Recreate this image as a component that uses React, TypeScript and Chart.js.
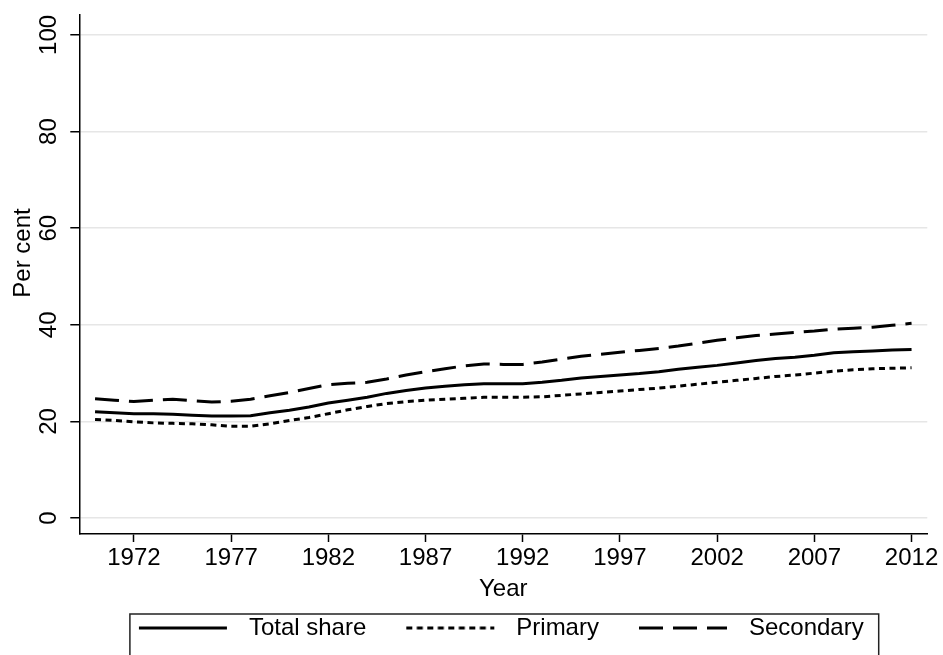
import React, { useEffect, useRef } from 'react';
import { Chart, registerables } from 'chart.js';

Chart.register(...registerables);

const years = [
  1970, 1971, 1972, 1973, 1974, 1975, 1976, 1977, 1978, 1979,
  1980, 1981, 1982, 1983, 1984, 1985, 1986, 1987, 1988, 1989,
  1990, 1991, 1992, 1993, 1994, 1995, 1996, 1997, 1998, 1999,
  2000, 2001, 2002, 2003, 2004, 2005, 2006, 2007, 2008, 2009,
  2010, 2011, 2012,
];

const totalShare = [
  22.0, 21.8, 21.6, 21.6, 21.5, 21.3, 21.1, 21.1, 21.2, 21.8,
  22.3, 23.0, 23.8, 24.4, 25.0, 25.8, 26.4, 26.9, 27.3, 27.6,
  27.8, 27.8, 27.8, 28.1, 28.5, 29.0, 29.3, 29.6, 29.9, 30.3,
  30.8, 31.2, 31.6, 32.1, 32.6, 33.0, 33.3, 33.7, 34.2, 34.4,
  34.6, 34.8, 34.9,
];

const primary = [
  20.4, 20.2, 19.9, 19.7, 19.6, 19.5, 19.3, 19.0, 19.0, 19.5,
  20.2, 20.8, 21.6, 22.4, 23.1, 23.7, 24.1, 24.4, 24.6, 24.8,
  25.0, 25.0, 25.0, 25.1, 25.4, 25.7, 26.0, 26.3, 26.6, 26.9,
  27.3, 27.7, 28.1, 28.5, 28.9, 29.3, 29.6, 30.0, 30.4, 30.7,
  30.9, 31.0, 31.1,
];

const secondary = [
  24.7, 24.4, 24.1, 24.4, 24.6, 24.3, 24.0, 24.2, 24.6, 25.3,
  26.0, 26.8, 27.6, 27.9, 28.1, 28.8, 29.6, 30.3, 30.9, 31.5,
  31.9, 31.8, 31.8, 32.3, 32.9, 33.5, 33.9, 34.3, 34.7, 35.1,
  35.6, 36.2, 36.8, 37.3, 37.8, 38.1, 38.4, 38.7, 39.1, 39.3,
  39.5, 39.9, 40.3,
];

const xTickYears = [1972, 1977, 1982, 1987, 1992, 1997, 2002, 2007, 2012];
const yTickValues = [0, 20, 40, 60, 80, 100];
const seriesLabels = ['Total share', 'Primary', 'Secondary'];
const xTitle = 'Year';
const yTitle = 'Per cent';

const FONT = '"Liberation Sans", Arial, Helvetica, sans-serif';
const FONT_SIZE = 24;
const SOLID: number[] = [];
const DOTTED = [6, 4.5];
const DASHED = [24, 10];

const SAMPLE_LEFT = 30;
const SAMPLE_LINE = 88;
const SAMPLE_RIGHT = 10;
const SAMPLE_W = SAMPLE_LEFT + SAMPLE_LINE + SAMPLE_RIGHT;
const LEGEND_SHIFT = -17;

function makeSample(dash: number[]) {
  const c = document.createElement('canvas');
  c.width = SAMPLE_W;
  c.height = 8;
  const g = c.getContext('2d')!;
  g.strokeStyle = '#000';
  g.lineWidth = 3;
  g.setLineDash(dash);
  g.beginPath();
  g.moveTo(SAMPLE_LEFT, 4);
  g.lineTo(SAMPLE_LEFT + SAMPLE_LINE, 4);
  g.stroke();
  return c;
}

const decorPlugin = {
  id: 'decor',
  afterLayout(chart: any) {
    const lg = chart.legend;
    if (lg) {
      lg.left += LEGEND_SHIFT;
      lg.right += LEGEND_SHIFT;
    }
  },
  afterDraw(chart: any) {
    const ctx = chart.ctx;
    // y-axis title
    ctx.save();
    ctx.fillStyle = '#000';
    ctx.font = `${FONT_SIZE}px ${FONT}`;
    ctx.translate(30, 253);
    ctx.rotate(-Math.PI / 2);
    ctx.textAlign = 'center';
    ctx.textBaseline = 'alphabetic';
    ctx.fillText(yTitle, 0, 0);
    ctx.restore();

    // legend frame
    const lg = chart.legend;
    if (!lg || !lg.legendHitBoxes || !lg.legendHitBoxes.length) return;
    const hb = lg.legendHitBoxes;
    const first = hb[0];
    const last = hb[hb.length - 1];
    const left = first.left + SAMPLE_LEFT - 9;
    const right = last.left + last.width + 15;
    const top = first.top - 2;
    ctx.save();
    ctx.strokeStyle = '#222';
    ctx.lineWidth = 1.5;
    ctx.setLineDash([]);
    ctx.strokeRect(left, top, right - left, 100);
    ctx.restore();
  },
};

export default function App() {
  const ref = useRef<HTMLCanvasElement | null>(null);

  useEffect(() => {
    if (!ref.current) return;
    const toPts = (arr: number[]) => years.map((y, i) => ({ x: y, y: arr[i] }));
    const mk = (label: string, arr: number[], dash: number[]) => ({
      label,
      data: toPts(arr),
      borderColor: '#000',
      backgroundColor: '#000',
      borderWidth: 3,
      borderDash: dash,
      borderCapStyle: 'butt' as const,
      pointRadius: 0,
      pointHoverRadius: 0,
      pointStyle: makeSample(dash) as any,
      tension: 0,
      fill: false,
    });
    const font = { family: FONT, size: FONT_SIZE };
    const chart = new Chart(ref.current, {
      type: 'line',
      data: {
        datasets: [
          mk(seriesLabels[0], totalShare, SOLID),
          mk(seriesLabels[1], primary, DOTTED),
          mk(seriesLabels[2], secondary, DASHED),
        ],
      },
      options: {
        animation: false,
        responsive: false,
        events: [],
        layout: { padding: { top: 13, right: 15.7, bottom: 5, left: 0 } },
        plugins: {
          legend: {
            position: 'bottom',
            fullSize: false,
            labels: {
              usePointStyle: true,
              pointStyleWidth: SAMPLE_W,
              boxHeight: 8,
              padding: 10,
              color: '#000',
              font,
            },
          },
          tooltip: { enabled: false },
        },
        scales: {
          x: {
            type: 'linear',
            min: 1969.19,
            max: 2012.81,
            afterBuildTicks: (s: any) => {
              s.ticks = xTickYears.map((v) => ({ value: v }));
            },
            afterFit: (s: any) => {
              s.height = 72;
            },
            ticks: {
              callback: (v: any) => String(v),
              font,
              color: '#000',
              padding: 2,
              maxRotation: 0,
              minRotation: 0,
              autoSkip: false,
            },
            grid: {
              drawOnChartArea: false,
              drawTicks: true,
              tickLength: 8,
              tickColor: '#000',
              tickWidth: 1.5,
            },
            border: { color: '#000', width: 1.5 },
            title: {
              display: true,
              text: xTitle,
              font,
              color: '#000',
              padding: { top: 0, bottom: 2.6 },
            },
          },
          y: {
            type: 'linear',
            min: -3.3,
            max: 104.12,
            afterBuildTicks: (s: any) => {
              s.ticks = yTickValues.map((v) => ({ value: v }));
            },
            afterFit: (s: any) => {
              s.width = 79.3;
            },
            ticks: {
              callback: (v: any) => String(v),
              font,
              color: '#000',
              minRotation: 90,
              maxRotation: 90,
              crossAlign: 'center',
              padding: 0.6,
              autoSkip: false,
            },
            grid: {
              color: '#e6e6e6',
              lineWidth: 1.5,
              drawTicks: true,
              tickLength: 9,
              tickColor: '#000',
              tickWidth: 1.5,
            },
            border: { color: '#000', width: 1.5 },
            title: { display: false },
          },
        },
      },
      plugins: [decorPlugin],
    });
    return () => chart.destroy();
  }, []);

  return (
    <div style={{ position: 'fixed', left: 0, top: 0, width: 943, height: 655, background: '#fff' }}>
      <canvas ref={ref} width={943} height={655} style={{ display: 'block' }} />
    </div>
  );
}
